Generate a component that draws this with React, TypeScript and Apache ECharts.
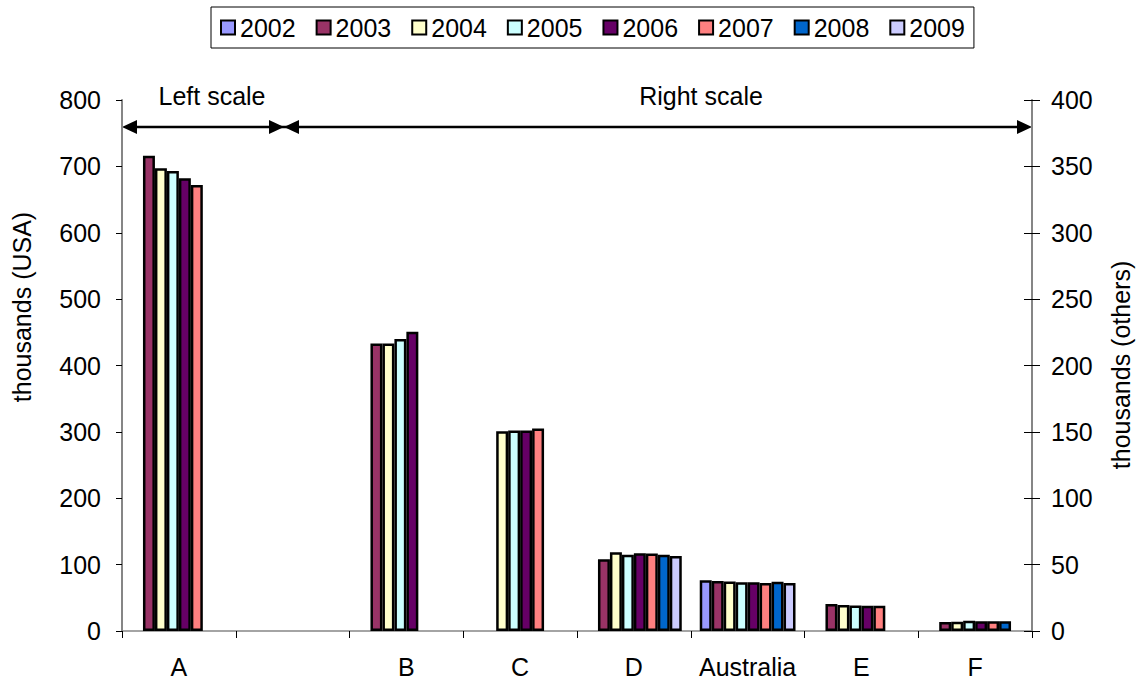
import React, { useEffect, useRef } from "react";
import * as echarts from "echarts";

// Series labels and category names
const years = ["2002", "2003", "2004", "2005", "2006", "2007", "2008", "2009"];
const categories = ["A", "", "B", "C", "D", "Australia", "E", "F"];

// Bar fill per year
const yearColors = [
  "#9999FF",
  "#993366",
  "#FFFFCC",
  "#CCFFFF",
  "#660066",
  "#FF8080",
  "#0066CC",
  "#CCCCFF",
];

// USA (left scale, thousands), indexed by year
const usaA = [null, 716, 697, 693, 682, 672, null, null];

// Others (right scale, thousands), indexed by year
const valB = [null, 216.5, 216.5, 220, 225.5, null, null, null];
const valC = [null, null, 150.5, 151, 151, 152.5, null, null];
const valD = [null, 54, 59.3, 57.5, 58.5, 58.3, 57.5, 56.5];
const valAustralia = [38.2, 37.7, 37.2, 36.7, 36.7, 36.2, 37.1, 36.2];
const valE = [null, 20.3, 19.6, 19.3, 19.1, 19.1, null, null];
const valF = [null, 6.8, 7.0, 7.8, 7.3, 7.3, 7.3, null];

// Axis ticks
const leftTicks = { min: 0, max: 800, interval: 100 };
const rightTicks = { min: 0, max: 400, interval: 50 };

const FONT = "'Liberation Sans', Arial, Helvetica, sans-serif";
const FS = 25;

export default function App() {
  const ref = useRef<HTMLDivElement>(null);

  useEffect(() => {
    if (!ref.current) return;
    const chart = echarts.init(ref.current, undefined, { renderer: "svg" });

    const orNone = (v: number | null) => (v == null ? "-" : v);
    const rightRows = [null, null, valB, valC, valD, valAustralia, valE, valF];

    const barStyle = (i: number) => ({
      color: yearColors[i],
      borderColor: "#000",
      borderWidth: 2.5,
    });

    const leftSeries = years.map((y, i) => ({
      name: y,
      type: "bar",
      xAxisIndex: 0,
      yAxisIndex: 0,
      barGap: "0%",
      barCategoryGap: "15.8%",
      itemStyle: barStyle(i),
      data: categories.map((c, ci) => (ci === 0 ? orNone(usaA[i]) : "-")),
    }));

    const rightSeries = years.map((y, i) => ({
      name: y,
      type: "bar",
      xAxisIndex: 1,
      yAxisIndex: 1,
      barGap: "0%",
      barCategoryGap: "15.8%",
      itemStyle: barStyle(i),
      data: categories.map((c, ci) => {
        const row = rightRows[ci];
        return row ? orNone(row[i]) : "-";
      }),
    }));

    const textStyle = { fontFamily: FONT, fontSize: FS, color: "#000" };
    const font = `${FS}px ${FONT}`;

    chart.setOption({
      animation: false,
      backgroundColor: "#fff",
      textStyle: { fontFamily: FONT },
      legend: {
        data: years,
        left: 211,
        top: 7,
        orient: "horizontal",
        padding: [8, 9],
        itemWidth: 14,
        itemHeight: 14,
        itemGap: 20,
        icon: "rect",
        borderColor: "#000",
        borderWidth: 1,
        textStyle: { ...textStyle },
      },
      grid: { left: 122, right: 106, top: 100, bottom: 50, containLabel: false },
      xAxis: [
        {
          type: "category",
          data: categories,
          position: "bottom",
          axisLine: { show: true, lineStyle: { color: "#868686", width: 1.5 } },
          axisTick: { show: true, length: 7, lineStyle: { color: "#000", width: 1 } },
          axisLabel: { ...textStyle, margin: 23, interval: 0 },
          splitLine: { show: false },
        },
        {
          type: "category",
          data: categories,
          position: "bottom",
          show: false,
        },
      ],
      yAxis: [
        {
          type: "value",
          position: "left",
          ...leftTicks,
          axisLine: { show: true, lineStyle: { color: "#868686", width: 2 } },
          axisTick: { show: true, length: 6, lineStyle: { color: "#000", width: 1 } },
          axisLabel: { ...textStyle, margin: 21 },
          splitLine: { show: false },
        },
        {
          type: "value",
          position: "right",
          ...rightTicks,
          axisLine: { show: true, lineStyle: { color: "#868686", width: 2 } },
          axisTick: { show: true, length: 8, lineStyle: { color: "#000", width: 1 } },
          axisLabel: { ...textStyle, margin: 19 },
          splitLine: { show: false },
        },
        {
          // inner half of the crossing ticks on the right axis
          type: "value",
          position: "right",
          ...rightTicks,
          axisLine: { show: false },
          axisTick: { show: true, inside: true, length: 8, lineStyle: { color: "#000", width: 1 } },
          axisLabel: { show: false },
          splitLine: { show: false },
        },
      ],
      graphic: [
        {
          type: "text",
          x: 22,
          y: 307,
          rotation: Math.PI / 2,
          style: { text: "thousands (USA)", fill: "#000", align: "center", verticalAlign: "middle", font },
        },
        {
          type: "text",
          x: 1121,
          y: 365,
          rotation: Math.PI / 2,
          style: { text: "thousands (others)", fill: "#000", align: "center", verticalAlign: "middle", font },
        },
        {
          type: "text",
          x: 212,
          y: 96,
          style: { text: "Left scale", fill: "#000", align: "center", verticalAlign: "middle", font },
        },
        {
          type: "text",
          x: 701,
          y: 96,
          style: { text: "Right scale", fill: "#000", align: "center", verticalAlign: "middle", font },
        },
        {
          type: "line",
          shape: { x1: 130, y1: 127, x2: 1024, y2: 127 },
          style: { stroke: "#000", lineWidth: 2.5 },
        },
        {
          type: "polygon",
          shape: { points: [[122, 127], [137, 120], [137, 134]] },
          style: { fill: "#000" },
        },
        {
          type: "polygon",
          shape: { points: [[284, 127], [269, 120], [269, 134]] },
          style: { fill: "#000" },
        },
        {
          type: "polygon",
          shape: { points: [[284, 127], [299, 120], [299, 134]] },
          style: { fill: "#000" },
        },
        {
          type: "polygon",
          shape: { points: [[1032, 127], [1017, 120], [1017, 134]] },
          style: { fill: "#000" },
        },
      ],
      series: [...leftSeries, ...rightSeries],
    });

    return () => chart.dispose();
  }, []);

  return (
    <div
      ref={ref}
      style={{ position: "fixed", left: 0, top: 0, width: 1138, height: 681, background: "#fff" }}
    />
  );
}
